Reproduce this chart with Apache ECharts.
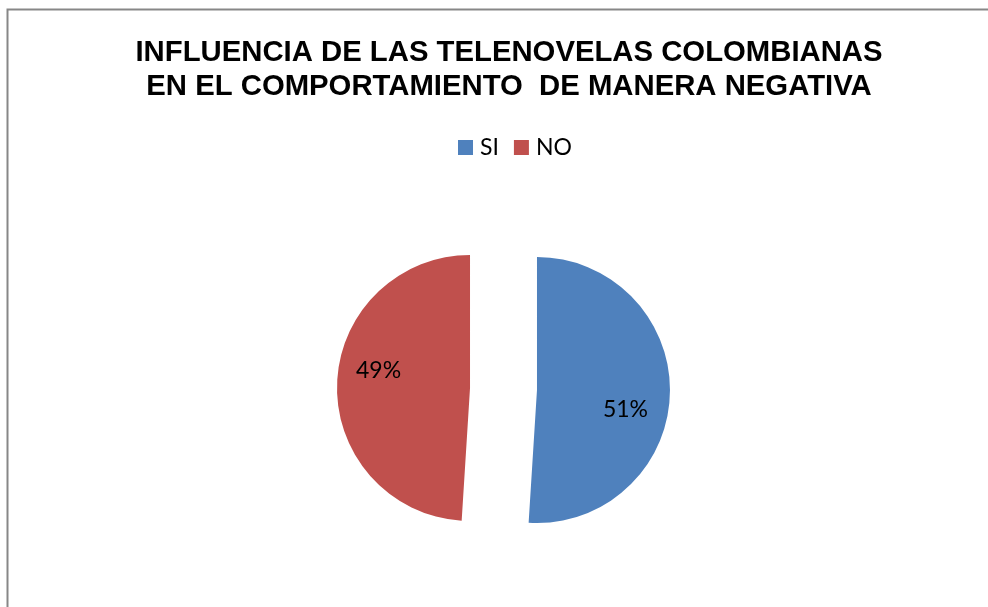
<!DOCTYPE html>
<html>
<head>
<meta charset="utf-8">
<script src="https://cdn.jsdelivr.net/npm/echarts@6/dist/echarts.min.js"></script>
<style>
html,body{margin:0;padding:0;background:#fff;}
#chart{width:988px;height:607px;}
</style>
</head>
<body>
<div id="chart"></div>
<script>
const titleLines = ['INFLUENCIA DE LAS TELENOVELAS COLOMBIANAS', 'EN EL COMPORTAMIENTO  DE MANERA NEGATIVA'];
const categories = ['SI', 'NO'];
const values = [51, 49];
const colors = ['#4F81BD', '#C0504D'];
const labelShift = [[19, 17], [-22, -15]];

const chart = echarts.init(document.getElementById('chart'), null, {renderer: 'canvas'});
const option = {
  animation: false,
  backgroundColor: '#ffffff',
  graphic: [{
    type: 'rect',
    shape: {x: 7.5, y: 9.5, width: 1100, height: 700},
    style: {fill: 'none', stroke: '#878787', lineWidth: 2},
    silent: true
  }],
  title: {
    text: titleLines.join('\n'),
    left: 504,
    textAlign: 'center',
    top: 31,
    textStyle: {
      fontFamily: 'Liberation Sans, Arial, sans-serif',
      fontWeight: 'bold',
      fontSize: 29.3,
      lineHeight: 34,
      color: '#000'
    }
  },
  legend: {
    data: categories,
    left: 453,
    top: 131,
    icon: 'rect',
    itemWidth: 15,
    itemHeight: 15,
    itemGap: 15,
    selectedMode: false,
    textStyle: {fontFamily: 'Lato, sans-serif', fontSize: 23, color: '#000', padding: [0, 0, 0, 2]}
  },
  series: [{
    type: 'pie',
    center: [503.5, 389],
    radius: 133,
    startAngle: 90,
    clockwise: true,
    selectedMode: 'multiple',
    selectedOffset: 33.5,
    silent: true,
    emphasis: {disabled: true, scale: false},
    label: {
      show: true,
      position: 'inside',
      formatter: '{d}%',
      fontFamily: 'Lato, sans-serif',
      fontSize: 23,
      color: '#000'
    },
    labelLine: {show: false},
    labelLayout: function (params) {
      const s = labelShift[params.dataIndex];
      return {dx: s[0], dy: s[1]};
    },
    data: categories.map((c, i) => ({
      name: c,
      value: values[i],
      selected: true,
      itemStyle: {color: colors[i], borderWidth: 0},
      select: {itemStyle: {color: colors[i], borderWidth: 0}}
    }))
  }]
};
chart.setOption(option);
</script>
</body>
</html>
